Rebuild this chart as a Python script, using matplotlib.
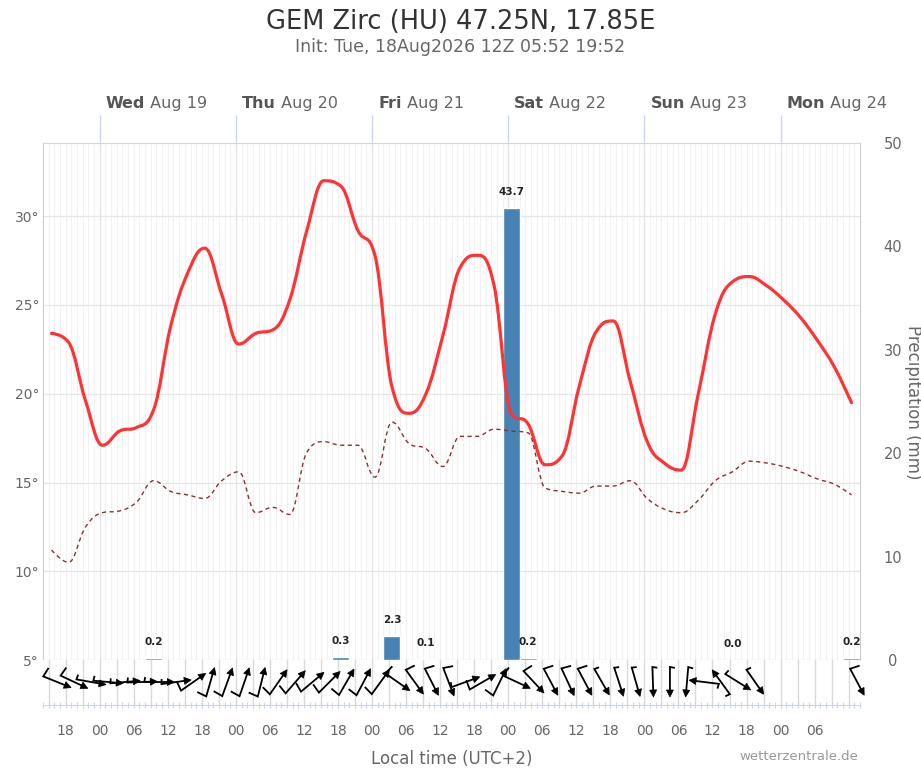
"""GEM meteogram for Zirc (HU): temperature, dew point, precipitation and wind."""

import numpy as np
import matplotlib
matplotlib.use("Agg")
import matplotlib.pyplot as plt
from matplotlib.path import Path
from matplotlib.patches import PathPatch, Polygon

# time axis: hours after Wed 19 Aug 2026 00:00 local time (UTC+2)
temperature = [23.4, 22.9, 19.6, 17.1, 17.9, 18.1, 19.1, 23.8, 26.8, 28.2,
               25.6, 22.8, 23.4, 23.6, 25.3, 29.2, 32.0, 31.7, 29.2, 27.8,
               20.4, 18.9, 20.0, 23.3, 27.1, 27.8, 26.1, 18.9, 18.3, 16.0,
               16.5, 20.4, 23.5, 24.1, 20.7, 17.3, 16.1, 15.7, 20.0, 24.5,
               26.3, 26.6, 26.1, 25.3, 24.3, 23.0, 21.5, 19.5]
dewpoint = [11.2, 10.5, 12.5, 13.3, 13.4, 13.9, 15.1, 14.5, 14.3, 14.1,
            15.1, 15.6, 13.3, 13.6, 13.2, 16.7, 17.3, 17.1, 17.1, 15.3,
            18.4, 17.2, 16.9, 15.9, 17.6, 17.6, 18.0, 17.9, 17.8, 14.7,
            14.5, 14.4, 14.8, 14.8, 15.1, 14.1, 13.5, 13.3, 14.0, 15.1,
            15.6, 16.2, 16.1, 15.9, 15.6, 15.2, 14.9, 14.3]
temp_hours = -8.5 + 3 * np.arange(len(temperature))

precip_hours = [9.5, 42.5, 51.5, 57.5, 72.5, 75.5, 111.5, 132.5]
precip_mm = [0.2, 0.3, 2.3, 0.1, 43.7, 0.2, 0.04, 0.2]

wind_hours = list(-7.5 + 3 * np.arange(42)) + [133.5]
# direction the wind blows from (deg)
wind_dir = [292, 295, 280, 275, 265, 268, 270, 262, 235, 196,
            200, 199, 194, 215, 221, 230, 225, 210, 208, 216,
            305, 324, 333, 339, 250, 240, 206, 295, 317, 332,
            335, 332, 330, 342, 344, 358, 0, 5, 97, 144,
            302, 325, 332]
# feather size: 1 full, 0.5 half
wind_feather = [1, 1, 0.5, 0.5, 0.5, 0.5, 0.5, 0.5, 1, 1,
                1, 1, 1, 1, 1, 1, 1, 1, 1, 1,
                1, 1, 1, 1, 0.5, 1, 1, 1, 1, 1,
                1, 1, 0.5, 0.5, 0.5, 0.5, 0.5, 0.5, 0.5, 0.5,
                0.5, 0.5, 1]

day_hours = [0, 24, 48, 72, 96, 120]
day_names = ["Wed", "Thu", "Fri", "Sat", "Sun", "Mon"]
day_dates = ["Aug 19", "Aug 20", "Aug 21", "Aug 22", "Aug 23", "Aug 24"]

W, H = 921, 768
X0, X1 = -10, 134
GREY = "#666666"
PT = 0.72  # points per pixel at dpi 100


def rect(l, t, r, b):
    return [l / W, 1 - b / H, (r - l) / W, (b - t) / H]


def spline_path(xs, ys, smoothing=1.5):
    # highcharts-like spline through the points
    xs = np.asarray(xs, float)
    ys = np.asarray(ys, float)
    n = len(xs)
    left, right = [], []
    for i in range(n):
        x, y = xs[i], ys[i]
        if 0 < i < n - 1:
            lx, ly, nx, ny = xs[i - 1], ys[i - 1], xs[i + 1], ys[i + 1]
            d = smoothing + 1
            lcx, lcy = (smoothing * x + lx) / d, (smoothing * y + ly) / d
            rcx, rcy = (smoothing * x + nx) / d, (smoothing * y + ny) / d
            corr = (rcy - lcy) * (rcx - x) / (rcx - lcx) + y - rcy
            lcy += corr
            rcy += corr
            if lcy > ly and lcy > y:
                lcy = max(ly, y); rcy = 2 * y - lcy
            elif lcy < ly and lcy < y:
                lcy = min(ly, y); rcy = 2 * y - lcy
            if rcy > ny and rcy > y:
                rcy = max(ny, y); lcy = 2 * y - rcy
            elif rcy < ny and rcy < y:
                rcy = min(ny, y); lcy = 2 * y - rcy
            left.append((lcx, lcy)); right.append((rcx, rcy))
        else:
            left.append((x, y)); right.append((x, y))
    verts = [(xs[0], ys[0])]
    codes = [Path.MOVETO]
    for i in range(1, n):
        verts += [right[i - 1], left[i], (xs[i], ys[i])]
        codes += [Path.CURVE4] * 3
    return Path(verts, codes)


fig = plt.figure(figsize=(W / 100, H / 100), dpi=100)

ax = fig.add_axes(rect(43, 143, 860, 660))
ax2 = ax.twinx()
axw = fig.add_axes(rect(43, 660, 860, 705))

# --- main panel ---
ax.set_xlim(X0, X1)
ax.set_ylim(5, 5 + 517 / 17.75)
ax2.set_xlim(X0, X1)
ax.set_xticks(day_hours)
ax.set_xticks(np.arange(-10, 135), minor=True)
ax.xaxis.tick_top()
ax.tick_params(axis="x", which="major", length=28 * PT, color="#ccd6eb",
               labeltop=False, width=1)
ax.tick_params(axis="x", which="minor", length=0)
ax.grid(which="minor", axis="x", color="#f1f1f1", lw=0.8)
ax.grid(which="major", axis="x", color="#e3e3e3", lw=0.9)
ax.set_yticks(range(5, 31, 5))
ax.set_yticklabels([f"{t}°" for t in range(5, 31, 5)])
ax.grid(which="major", axis="y", color="#e6e6e6", lw=0.9)
ax.tick_params(axis="y", length=0, pad=4 * PT, labelsize=10, labelcolor=GREY)
ax.set_axisbelow(True)
for side in ("left", "right"):
    ax.spines[side].set_color("#cccccc")
ax.spines["top"].set_color("#ccd6eb")
ax.spines["bottom"].set_visible(False)

ax2.set_ylim(0, 50)
ax2.set_yticks(range(0, 51, 10))
ax2.tick_params(axis="y", length=0, pad=33 * PT, labelsize=10.5, labelcolor=GREY)
for lab in ax2.get_yticklabels():
    lab.set_horizontalalignment("center")
for s in ax2.spines.values():
    s.set_visible(False)

bars = ax2.bar(precip_hours, precip_mm, width=3, color="#4682b4",
               edgecolor="white", linewidth=1.0, zorder=2)
for h, v in zip(precip_hours, precip_mm):
    ax2.annotate(f"{v:.1f}", xy=(h, v), xytext=(0, 16), textcoords="offset pixels",
                 ha="center", va="center", fontsize=7.5, fontweight="bold",
                 color="#222222")

ax2.add_patch(PathPatch(spline_path(temp_hours, dewpoint), transform=ax.transData,
                        fill=False, edgecolor="#8b2f2f", lw=1.0,
                        linestyle=(0, (3, 2.5)), zorder=3))
ax2.add_patch(PathPatch(spline_path(temp_hours, temperature), transform=ax.transData,
                        fill=False, edgecolor="#ff3333", lw=2.3, zorder=4,
                        joinstyle="round", capstyle="round"))
ax2.set_ylim(0, 50)
ax2.set_xlim(X0, X1)

# day labels above the panel
for h, name, date in zip(day_hours, day_names, day_dates):
    t1 = ax.annotate(name, xy=(h, 1), xycoords=("data", "axes fraction"),
                     xytext=(6, 35), textcoords="offset pixels", ha="left",
                     va="baseline", fontsize=11.5, fontweight="bold", color="#555555")
    ax.annotate(" " + date, xy=(1, 0), xycoords=t1, ha="left", va="bottom",
                fontsize=11.5, color=GREY)

# --- wind strip ---
pxh = 817 / (X1 - X0)
axw.set_xlim(X0, X1)
axw.set_ylim(0, 45)
axw.set_yticks([])
for s in ("left", "right", "top"):
    axw.spines[s].set_visible(False)
axw.spines["bottom"].set_color("#ccd6eb")
for g in np.arange(-9, X1, 3):
    axw.axvline(g, color="#dadada", lw=1.0, zorder=0)
maj = np.arange(-6, 127, 6)
axw.set_xticks(maj)
axw.set_xticklabels([f"{int(m) % 24:02d}" for m in maj])
axw.set_xticks(np.arange(-10, 135), minor=True)
axw.tick_params(axis="x", which="both", direction="inout", length=5,
                color="#ccd6eb", width=0.8)
axw.tick_params(axis="x", which="major", pad=16 * PT, labelsize=10, labelcolor=GREY)
axw.set_xlabel("Local time (UTC+2)", fontsize=12, color=GREY, labelpad=8)

L, HL, HW = 30, 7, 3.5
for h, d, f in zip(wind_hours, wind_dir, wind_feather):
    a = np.deg2rad(d + 180)
    u = np.array([np.sin(a), np.cos(a)])
    perp = np.array([-u[1], u[0]])
    c = np.array([0.0, 23.0])
    tail = c - u * L / 2
    head = c + u * L / 2
    rot = np.deg2rad(80)
    fdir = np.array([u[0] * np.cos(rot) - u[1] * np.sin(rot),
                     u[0] * np.sin(rot) + u[1] * np.cos(rot)])
    fend = tail + fdir * 10 * f
    shaft_end = head - u * (HL - 1)
    pts = np.array([fend, tail, shaft_end])
    axw.plot(h + pts[:, 0] / pxh, pts[:, 1], color="black", lw=1.3,
             solid_joinstyle="miter", solid_capstyle="butt", zorder=3, clip_on=False)
    tri = np.array([head, head - u * HL + perp * HW, head - u * HL - perp * HW])
    axw.add_patch(Polygon(np.c_[h + tri[:, 0] / pxh, tri[:, 1]], closed=True,
                          facecolor="black", edgecolor="black", lw=0.5, zorder=3,
                          clip_on=False))

# --- titles ---
fig.text(0.5, 1 - 22 / H, "GEM Zirc (HU) 47.25N, 17.85E", ha="center", va="center",
         fontsize=18.5, color="#333333")
fig.text(0.5, 1 - 47 / H, "Init: Tue, 18Aug2026 12Z 05:52 19:52", ha="center",
         va="center", fontsize=12.5, color=GREY)
fig.text(913 / W, 1 - 402 / H, "Precipitation (mm)", rotation=270, ha="center",
         va="center", fontsize=12, color=GREY)
fig.text(858 / W, 1 - 757 / H, "wetterzentrale.de", ha="right", va="center",
         fontsize=9.5, color="#999999")

fig.savefig("out.png", dpi=100)
